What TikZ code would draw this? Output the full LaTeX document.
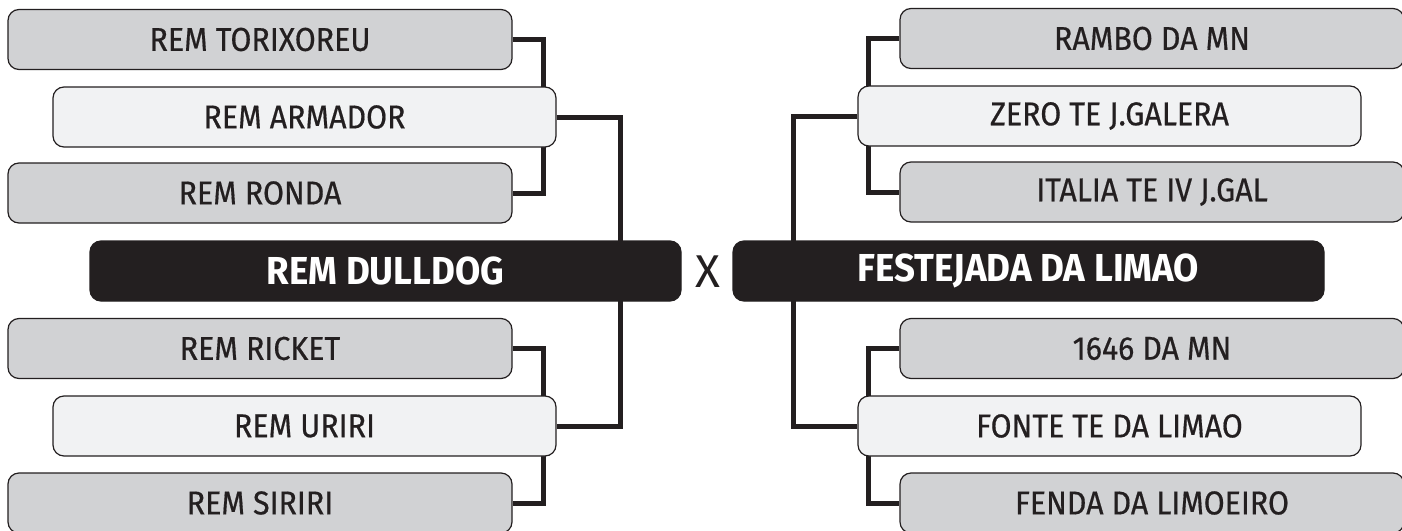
\documentclass[tikz,border=0pt]{standalone}
\usepackage{fontspec}
\setmainfont{Fira Sans}
\newfontfamily\teamfont[FakeBold=0.5, FakeStretch=0.92]{Fira Sans}
\newfontfamily\finalfont[FakeStretch=0.94]{Fira Sans Bold}
\usetikzlibrary{backgrounds}
\definecolor{ink}{HTML}{231F20}
\definecolor{boxgray}{HTML}{D1D2D4}
\definecolor{boxlight}{HTML}{F1F2F3}

\tikzset{
  team/.style={draw=ink, line width=1.2pt, rounded corners=11pt, minimum height=60pt,
    inner sep=0pt, text=ink, font=\teamfont\fontsize{33}{33}\selectfont},
  graybox/.style={team, fill=boxgray, minimum width=504pt},
  lightbox/.style={team, fill=boxlight, minimum width=503pt},
  finalbox/.style={team, fill=ink, text=white, minimum width=591pt,
    font=\finalfont\fontsize{39}{39}\selectfont},
  link/.style={draw=ink, line width=5pt},
}

\begin{document}
\begin{tikzpicture}[x=1pt,y=-1pt]
\clip (0,0) rectangle (1402,530);
%%%% left side
\node[graybox]  (torixoreu) at (260,39.5)  {REM TORIXOREU};
\node[lightbox] (armador)   at (304.5,117) {REM ARMADOR};
\node[graybox]  (ronda)     at (260,193)   {REM RONDA};
\node[finalbox] (dulldog)   at (385.5,271) {REM DULLDOG};
\node[graybox]  (ricket)    at (260,348.5) {REM RICKET};
\node[lightbox] (uriri)     at (304.5,426) {REM URIRI};
\node[graybox]  (siriri)    at (260,503)   {REM SIRIRI};
%%%% right side
\node[graybox]  (rambo)     at (1152,38.5)   {RAMBO DA MN};
\node[lightbox] (zero)      at (1109.5,116)  {ZERO TE J.GALERA};
\node[graybox]  (italia)    at (1152,192)    {ITALIA TE IV J.GAL};
\node[finalbox] (festejada) at (1028.5,271)  {FESTEJADA DA LIMAO};
\node[graybox]  (mn1646)    at (1152,348.5)  {1646 DA MN};
\node[lightbox] (fonte)     at (1109.5,426)  {FONTE TE DA LIMAO};
\node[graybox]  (fenda)     at (1152,503)    {FENDA DA LIMOEIRO};
%
\node[text=ink, font=\fontsize{46}{46}\selectfont] (versus) at (708,272) {X};
%%%% brackets
\begin{scope}[on background layer]
\draw[link] (torixoreu.east) -- ++(31,0) |- (ronda.east);
\draw[link] (ricket.east) -- ++(31,0) |- (siriri.east);
\draw[link] (armador.east) -- ++(64,0) |- (uriri.east);
\draw[link] (rambo.west) -- ++(-31,0) |- (italia.west);
\draw[link] (mn1646.west) -- ++(-31,0) |- (fenda.west);
\draw[link] (zero.west) -- ++(-64,0) |- (fonte.west);
\end{scope}
\end{tikzpicture}
\end{document}
